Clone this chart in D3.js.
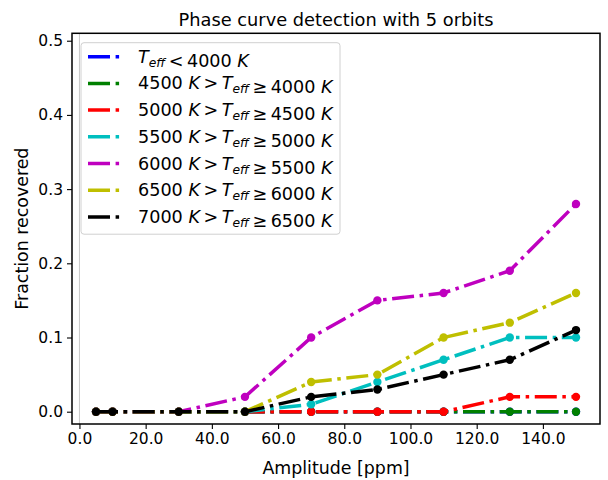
<!DOCTYPE html>
<html><head><meta charset="utf-8">
<script src="https://cdn.jsdelivr.net/npm/d3@7"></script>
<style>
html,body{margin:0;padding:0;background:#fff;}
text{font-family:"DejaVu Sans",sans-serif;}
</style></head>
<body><svg id="chart" width="608" height="480"></svg>
<script>
const titleText = "Phase curve detection with 5 orbits";
const xLabel = "Amplitude [ppm]";
const yLabel = "Fraction recovered";
const amplitudes = [5, 10, 30, 50, 70, 90, 110, 130, 150];
const xTicks = [0, 20, 40, 60, 80, 100, 120, 140];
const yTicks = [0.0, 0.1, 0.2, 0.3, 0.4, 0.5];
const seriesLabels = [
  "T_eff < 4000 K",
  "4500 K > T_eff ≥ 4000 K",
  "5000 K > T_eff ≥ 4500 K",
  "5500 K > T_eff ≥ 5000 K",
  "6000 K > T_eff ≥ 5500 K",
  "6500 K > T_eff ≥ 6000 K",
  "7000 K > T_eff ≥ 6500 K"
];
const seriesColors = ["#0000ff", "#008000", "#ff0000", "#00bfbf", "#bf00bf", "#bfbf00", "#000000"];
const vals4000 = [0, 0, 0, 0, 0, 0, 0, 0, 0];
const vals4500 = [0, 0, 0, 0, 0, 0, 0, 0, 0];
const vals5000 = [0, 0, 0, 0, 0, 0, 0, 0.02, 0.02];
const vals5500 = [0, 0, 0, 0, 0.01, 0.04, 0.07, 0.10, 0.10];
const vals6000 = [0, 0, 0, 0.02, 0.10, 0.15, 0.16, 0.19, 0.28];
const vals6500 = [0, 0, 0, 0, 0.04, 0.05, 0.10, 0.12, 0.16];
const vals7000 = [0, 0, 0, 0, 0.02, 0.03, 0.05, 0.07, 0.11];
const seriesValues = [vals4000, vals4500, vals5000, vals5500, vals6000, vals6500, vals7000];

const svg = d3.select("#chart");
const L = 72, R = 600, T = 33.3, B = 424;
const x = d3.scaleLinear().domain([-2.25, 157.25]).range([L, R]);
const y = d3.scaleLinear().domain([-0.01658, 0.51]).range([B, T]);

// vertical reference line at x = 0
svg.append("line").attr("x1", x(0)).attr("x2", x(0)).attr("y1", T).attr("y2", B)
  .attr("stroke", "#c8c8c8").attr("stroke-width", 1);

const dash = "22,5.6,3.5,5.6";
const line = d3.line().x(d => x(d[0])).y(d => y(d[1]));
seriesValues.forEach((vals, i) => {
  const pts = amplitudes.map((a, j) => [a, vals[j]]);
  const g = svg.append("g");
  g.append("path").attr("d", line(pts)).attr("fill", "none")
    .attr("stroke", seriesColors[i]).attr("stroke-width", 3.5)
    .attr("stroke-dasharray", dash);
  g.selectAll("circle").data(pts).enter().append("circle")
    .attr("cx", d => x(d[0])).attr("cy", d => y(d[1])).attr("r", 4.2)
    .attr("fill", seriesColors[i]);
});

// axes
const xAxis = d3.axisBottom(x).tickValues(xTicks).tickFormat(d3.format(".1f")).tickSizeOuter(0).tickSize(5).tickPadding(4);
const yAxis = d3.axisLeft(y).tickValues(yTicks).tickFormat(d3.format(".1f")).tickSizeOuter(0).tickSize(5).tickPadding(4);
const gx = svg.append("g").attr("transform", `translate(0,${B})`).call(xAxis);
const gy = svg.append("g").attr("transform", `translate(${L},0)`).call(yAxis);
[gx, gy].forEach(g => {
  g.select(".domain").remove();
  g.selectAll(".tick line").attr("stroke", "#000").attr("stroke-width", 1.1);
  g.selectAll(".tick text").attr("font-size", 15.5).attr("fill", "#000")
    .attr("font-family", "DejaVu Sans");
});
svg.append("rect").attr("x", L).attr("y", T).attr("width", R - L).attr("height", B - T)
  .attr("fill", "none").attr("stroke", "#000").attr("stroke-width", 1.5);

// titles
svg.append("text").attr("x", (L + R) / 2).attr("y", 25.5).attr("text-anchor", "middle")
  .attr("font-size", 17.8).text(titleText);
svg.append("text").attr("x", (L + R) / 2).attr("y", 474).attr("text-anchor", "middle")
  .attr("font-size", 17.4).text(xLabel);
svg.append("text").attr("transform", `translate(28,${(T + B) / 2}) rotate(-90)`)
  .attr("text-anchor", "middle").attr("font-size", 17.4).text(yLabel);

// legend
const lg = svg.append("g");
lg.append("rect").attr("x", 81).attr("y", 42.7).attr("width", 259).attr("height", 191.5)
  .attr("rx", 3).attr("fill", "#fff").attr("fill-opacity", 0.8)
  .attr("stroke", "#d0d0d0").attr("stroke-width", 1);
function addLabel(txt, label) {
  const parts = label.split(/(T_eff|K)/).filter(s => s.length);
  parts.forEach(p => {
    if (p === "T_eff") {
      txt.append("tspan").attr("font-style", "italic").text("T");
      txt.append("tspan").attr("font-style", "italic").attr("font-size", 12.3).attr("dy", 4).text("eff");
      txt.append("tspan").attr("dy", -4).text("");
    } else if (p === "K") {
      txt.append("tspan").attr("font-style", "italic").text("K");
    } else {
      txt.append("tspan").text(p.replace(/ ([<>≥]) /g, "\u2009$1\u2009"));
    }
  });
}
seriesLabels.forEach((lab, i) => {
  const cy = 56.7 + i * 26.7;
  lg.append("line").attr("x1", 88).attr("x2", 121).attr("y1", cy).attr("y2", cy)
    .attr("stroke", seriesColors[i]).attr("stroke-width", 3.5).attr("stroke-dasharray", dash);
  const t = lg.append("text").attr("x", 138).attr("y", cy + 6).attr("font-size", 17.6)
    .attr("xml:space", "preserve");
  addLabel(t, lab);
});
</script></body></html>
